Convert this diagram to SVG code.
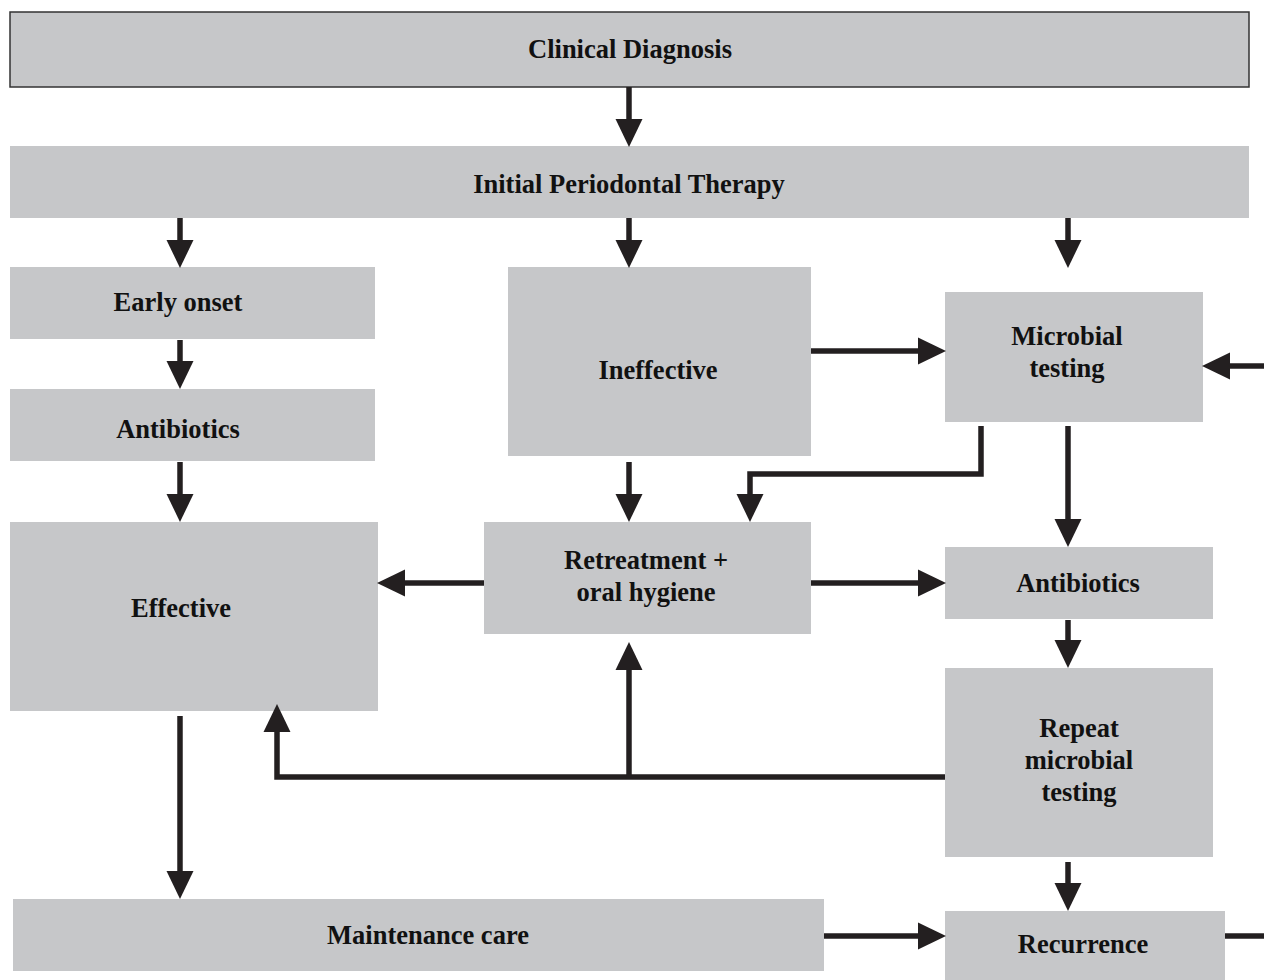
<svg xmlns="http://www.w3.org/2000/svg" width="1264" height="980" viewBox="0 0 1264 980">
<defs>
<marker id="ah" markerUnits="userSpaceOnUse" markerWidth="28" markerHeight="28" refX="0" refY="13" orient="auto" viewBox="0 0 27 26">
<path d="M0,0 L27,13 L0,26 z" fill="#231f20"/>
</marker>
<style>
.box{fill:#c6c7c9}
.lbl{font-family:"Liberation Serif","Times New Roman",serif;font-weight:bold;font-size:26.5px;fill:#111;text-anchor:middle}
.c{fill:none;stroke:#231f20;stroke-width:5.5}
.a{marker-end:url(#ah)}
</style>
</defs>
<rect width="1264" height="980" fill="#fff"/>
<g id="clinical-diagnosis"><rect class="box" x="10" y="12" width="1239" height="75" stroke="#333" stroke-width="1.5"/><text class="lbl" x="630" y="58">Clinical Diagnosis</text></g>
<g id="initial-therapy"><rect class="box" x="10" y="146" width="1239" height="72"/><text class="lbl" x="629" y="193">Initial Periodontal Therapy</text></g>
<g id="early-onset"><rect class="box" x="10" y="267" width="365" height="72"/><text class="lbl" x="178" y="311">Early onset</text></g>
<g id="antibiotics-left"><rect class="box" x="10" y="389" width="365" height="72"/><text class="lbl" x="178" y="438">Antibiotics</text></g>
<g id="effective"><rect class="box" x="10" y="522" width="368" height="189"/><text class="lbl" x="181" y="617">Effective</text></g>
<g id="ineffective"><rect class="box" x="508" y="267" width="303" height="189"/><text class="lbl" x="658" y="379">Ineffective</text></g>
<g id="microbial-testing"><rect class="box" x="945" y="292" width="258" height="130"/><text class="lbl" x="1067" y="345">Microbial</text><text class="lbl" x="1067" y="377">testing</text></g>
<g id="retreatment"><rect class="box" x="484" y="522" width="327" height="112"/><text class="lbl" x="646" y="569">Retreatment +</text><text class="lbl" x="646" y="601">oral hygiene</text></g>
<g id="antibiotics-right"><rect class="box" x="945" y="547" width="268" height="72"/><text class="lbl" x="1078" y="592">Antibiotics</text></g>
<g id="repeat-testing"><rect class="box" x="945" y="668" width="268" height="189"/><text class="lbl" x="1079" y="737">Repeat</text><text class="lbl" x="1079" y="769">microbial</text><text class="lbl" x="1079" y="801">testing</text></g>
<g id="maintenance"><rect class="box" x="13" y="899" width="811" height="72"/><text class="lbl" x="428" y="944">Maintenance care</text></g>
<g id="recurrence"><rect class="box" x="945" y="911" width="280" height="69"/><text class="lbl" x="1083" y="953">Recurrence</text></g>
<g id="connectors">
<path class="c a" d="M629,87 V119"/>
<path class="c a" d="M180,218 V240"/>
<path class="c a" d="M629,218 V240"/>
<path class="c a" d="M1068,218 V240"/>
<path class="c a" d="M180,340 V361"/>
<path class="c a" d="M180,462 V494"/>
<path class="c a" d="M811,351 H918"/>
<path class="c a" d="M1264,366 H1230"/>
<path class="c a" d="M629,462 V494"/>
<path class="c a" d="M981,426 V474 H750 V494"/>
<path class="c a" d="M1068,426 V519"/>
<path class="c a" d="M484,583 H405"/>
<path class="c a" d="M811,583 H918"/>
<path class="c a" d="M1068,620 V640"/>
<path class="c a" d="M945,777 H277 V732"/>
<path class="c a" d="M629,777 V670"/>
<path class="c a" d="M180,716 V871"/>
<path class="c a" d="M1068,862 V883"/>
<path class="c a" d="M824,936 H918"/>
<path class="c" d="M1225,936 H1264"/>
</g>
</svg>
